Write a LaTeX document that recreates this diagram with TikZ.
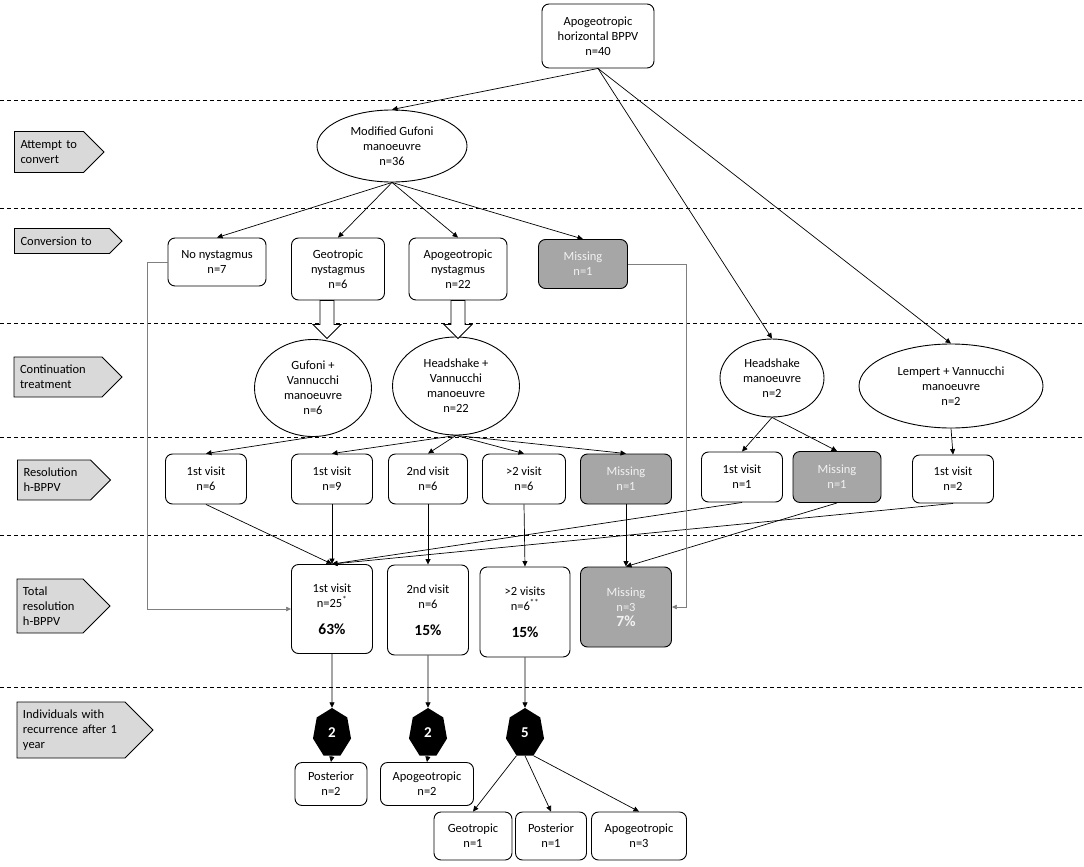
\documentclass[tikz,border=0pt]{standalone}
\usepackage{fontspec}
\setmainfont{Carlito}
\usetikzlibrary{arrows.meta,shapes.geometric,shapes.symbols}

\definecolor{labgray}{HTML}{D9D9D9}
\definecolor{missgray}{HTML}{A6A6A6}
\definecolor{misstext}{HTML}{F2F2F2}
\definecolor{linegray}{HTML}{7F7F7F}

\tikzset{
  box/.style={draw, rounded corners=7pt, fill=white, align=center, line width=0.9pt, inner sep=2pt},
  missbox/.style={box, fill=missgray, text=misstext},
  oval/.style={ellipse, draw, fill=white, align=center, line width=0.9pt, inner sep=0pt},
  lab/.style={signal, signal to=east, draw, fill=labgray, align=left, line width=0.9pt, inner xsep=6pt, inner ysep=2pt},
  hept/.style={regular polygon, regular polygon sides=7, minimum size=50pt, inner sep=0pt,
    fill=black, text=white, font=\bfseries\fontsize{15}{18}\selectfont, transform shape},
  conn/.style={-{Triangle[length=5.5pt,width=5pt]}, line width=0.7pt},
  elbow/.style={-{Triangle[length=5pt,width=4.5pt]}, line width=0.5pt, draw=linegray},
  sep/.style={line width=0.8pt, dash pattern=on 4pt off 3pt}
}
\newcommand{\pct}[1]{{\bfseries\fontsize{15.5}{18}\selectfont #1}}

\begin{document}
\begin{tikzpicture}[x=1pt, y=-1pt, font=\fontsize{12.5}{15}\selectfont]
  \useasboundingbox (0,0) rectangle (1084,867);

  % bands
  \foreach \dy in {100,208,323,437,535,687}
  \draw[sep] (0,\dy) -- (1084,\dy);

  % row labels
  \node[lab, text width=57pt, minimum height=41pt] (lattempt) at (49,152) {Attempt to\\convert};
  \node[lab, text width=83pt, minimum height=25pt] (lconv) at (62,241) {Conversion to};
  \node[lab, text width=76pt, minimum height=40pt] (lcont) at (58,377) {Continuation\\treatment};
  \node[lab, text width=61pt, minimum height=40pt] (lres) at (54,480) {Resolution\\h-BPPV};
  \node[lab, text width=54pt, minimum height=54pt] (ltot) at (50,606) {Total\\resolution\\h-BPPV};
  \node[lab, text width=96pt, minimum height=56pt] (lrec) at (71,730) {Individuals with\\recurrence after 1\\year};

  % start and conversion
  \node[box, minimum width=112pt, minimum height=64pt] (top) at (598,36) {Apogeotropic\\horizontal BPPV\\n=40};
  \node[oval, minimum width=150pt, minimum height=72pt] (mgu) at (392,146) {Modified Gufoni\\manoeuvre\\n=36};

  \node[box, minimum width=98pt, minimum height=48pt] (nonys) at (217,262) {No nystagmus\\n=7};
  \node[box, minimum width=93pt, minimum height=62pt] (geo) at (338,269) {Geotropic\\nystagmus\\n=6};
  \node[box, minimum width=98pt, minimum height=62pt] (apo) at (458,269) {Apogeotropic\\nystagmus\\n=22};
  \node[missbox, minimum width=89pt, minimum height=49pt] (miss1) at (583,264) {Missing\\n=1};

  % continuation treatment
  \node[oval, minimum width=117pt, minimum height=97pt] (guv) at (313,388) {Gufoni +\\Vannucchi\\manoeuvre\\n=6};
  \node[oval, minimum width=127pt, minimum height=98pt] (hsv) at (456,386) {Headshake +\\Vannucchi\\manoeuvre\\n=22};
  \node[oval, minimum width=104pt, minimum height=78pt] (hs) at (772,378) {Headshake\\manoeuvre\\n=2};
  \node[oval, minimum width=184pt, minimum height=84pt] (lv) at (951,386) {Lempert + Vannucchi\\manoeuvre\\n=2};

  % resolution
  \node[box, minimum width=81pt, minimum height=50pt] (r1) at (206,479) {1st visit\\n=6};
  \node[box, minimum width=81pt, minimum height=50pt] (r2) at (332,479) {1st visit\\n=9};
  \node[box, minimum width=79pt, minimum height=50pt] (r3) at (428,479) {2nd visit\\n=6};
  \node[box, minimum width=83pt, minimum height=50pt] (r4) at (524,479) {>2 visit\\n=6};
  \node[missbox, minimum width=91pt, minimum height=50pt] (r5) at (626,479) {Missing\\n=1};
  \node[box, minimum width=81pt, minimum height=50pt] (r6) at (742,477) {1st visit\\n=1};
  \node[missbox, minimum width=88pt, minimum height=51pt] (r7) at (837,477) {Missing\\n=1};
  \node[box, minimum width=81pt, minimum height=48pt] (r8) at (953,479) {1st visit\\n=2};

  % total resolution
  \node[box, minimum width=81pt, minimum height=89pt] (t1) at (332,609) {1st visit\\n=25\textsuperscript{*}\\[12pt]\pct{63\%}};
  \node[box, minimum width=81pt, minimum height=90pt] (t2) at (428,610) {2nd visit\\n=6\\[12pt]\pct{15\%}};
  \node[box, minimum width=90pt, minimum height=90pt] (t3) at (525,612) {>2 visits\\n=6\textsuperscript{**}\\[12pt]\pct{15\%}};
  \node[missbox, minimum width=91pt, minimum height=80pt] (t4) at (626,607) {Missing\\n=3\\\pct{7\%}};

  % recurrence
  \foreach \hx/\hn/\hnm in {332/2/h1,428/2/h2,525/5/h3}{
    \begin{scope}[shift={(\hx,733)}, xscale=0.78]
      \node[hept] (\hnm) at (0,0) {\scalebox{1.28}[1]{\hn}};
    \end{scope}
  }
  \node[box, minimum width=72pt, minimum height=43pt] (p1) at (331,784) {Posterior\\n=2};
  \node[box, minimum width=93pt, minimum height=43pt] (p2) at (427,784) {Apogeotropic\\n=2};
  \node[box, minimum width=78pt, minimum height=48pt] (q1) at (473,836) {Geotropic\\n=1};
  \node[box, minimum width=71pt, minimum height=48pt] (q2) at (551,836) {Posterior\\n=1};
  \node[box, minimum width=95pt, minimum height=48pt] (q3) at (639,836) {Apogeotropic\\n=3};

  % connectors
  \foreach \dst in {mgu,hs,lv}
  \draw[conn] (top.south) -- (\dst.north);
  \foreach \dst in {nonys,geo,apo,miss1}
  \draw[conn] (mgu.south) -- (\dst.north);
  \foreach \nd/\dx in {geo/-11,apo/0}
  \draw[line width=0.8pt, fill=white] ([xshift={\dx pt-7pt}]\nd.south) -- ++(0,24) -- ++(-7,0)
    -- ++(14,14) -- ++(14,-14) -- ++(-7,0) -- ++(0,-24) -- cycle;
  \draw[conn] (guv.south) -- (r1.north);
  \foreach \dst in {r2,r3,r4,r5}
  \draw[conn] (hsv.south) -- (\dst.north);
  \draw[conn] (hs.south) -- (r6.north);
  \draw[conn] (hs.south) -- (r7.north);
  \draw[conn] (lv.south) -- (r8.north);
  \foreach \src in {r1,r2,r6,r8}
  \draw[conn] (\src.south) -- (t1.north);
  \draw[conn] (r3.south) -- (t2.north);
  \draw[conn] (r4.south) -- (t3.north);
  \draw[conn] (r5.south) -- (t4.north);
  \draw[conn] (r7.south) -- (t4.north);

  \coordinate (elbowl) at (147,0);
  \coordinate (elbowr) at (686,0);
  \draw[elbow] (nonys.west) -- (nonys.west -| elbowl) |- (t1.west);
  \draw[elbow] (miss1.east) -- (miss1.east -| elbowr) |- (t4.east);

  \draw[conn] (t1.south) -- (h1.north);
  \draw[conn] (t2.south) -- (h2.north);
  \draw[conn] (t3.south) -- (h3.north);
  \draw[conn] (h1.south) -- (p1.north);
  \draw[conn] (h2.south) -- (p2.north);
  \draw[conn] (h3.corner 4) -- (q1.north);
  \draw[conn] (h3.south) -- (q2.north);
  \draw[conn] (h3.corner 5) -- (q3.north);
\end{tikzpicture}
\end{document}
